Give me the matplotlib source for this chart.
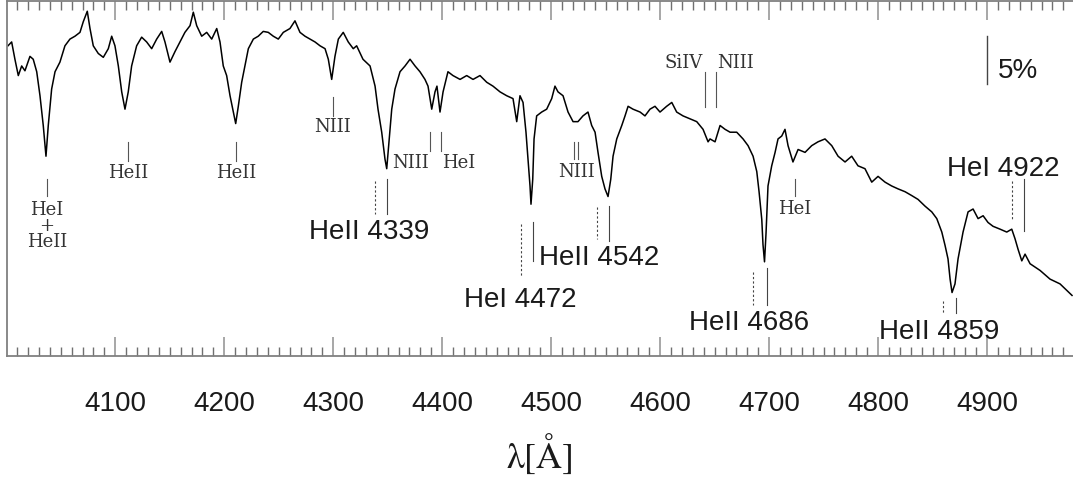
import matplotlib
matplotlib.use("Agg")
import matplotlib.pyplot as plt
from matplotlib.ticker import MultipleLocator

# spectrum (wavelength in A, relative flux)
wave = [4001.5, 4004.9, 4007.9, 4011.0, 4014.1, 4017.1, 4021.7, 4024.7, 4027.9, 4030.9,
        4033.9, 4036.4, 4038.5, 4041.6, 4044.7, 4049.2, 4053.8, 4058.4, 4063.0, 4067.6,
        4070.6, 4074.3, 4076.8, 4079.8, 4084.4, 4089.0, 4093.6, 4096.7, 4099.7, 4102.8,
        4105.9, 4108.9, 4111.9, 4115.0, 4119.6, 4124.2, 4128.8, 4133.4, 4138.0, 4142.6,
        4145.6, 4150.2, 4154.8, 4159.4, 4163.9, 4168.6, 4171.6, 4174.7, 4179.3, 4183.9,
        4188.5, 4193.1, 4196.1, 4199.1, 4202.2, 4205.3, 4208.3, 4210.5, 4212.9, 4216.0,
        4219.0, 4222.1, 4226.7, 4231.2, 4235.8, 4240.4, 4245.0, 4249.6, 4254.2, 4260.3,
        4264.9, 4269.5, 4274.1, 4278.7, 4283.3, 4287.9, 4292.5, 4295.5, 4298.6, 4301.6,
        4304.7, 4309.2, 4313.8, 4318.4, 4321.5, 4327.3, 4333.8, 4338.4, 4341.1, 4344.5,
        4347.5, 4349.1, 4351.2, 4353.7, 4356.7, 4361.3, 4365.9, 4370.5, 4375.1, 4379.6,
        4384.2, 4387.0, 4390.4, 4393.4, 4395.2, 4398.0, 4400.8, 4405.3, 4409.9, 4416.4,
        4422.5, 4428.3, 4434.7, 4440.9, 4446.6, 4453.1, 4459.2, 4465.0, 4468.4, 4471.4,
        4474.2, 4476.9, 4478.8, 4480.6, 4481.5, 4483.1, 4484.3, 4486.7, 4491.3, 4495.9,
        4500.5, 4503.5, 4506.3, 4510.9, 4515.5, 4520.1, 4524.6, 4529.2, 4533.8, 4537.2,
        4540.3, 4543.0, 4546.4, 4549.4, 4552.2, 4554.7, 4556.8, 4560.2, 4564.8, 4567.8,
        4570.6, 4575.1, 4581.6, 4586.1, 4590.7, 4595.3, 4599.9, 4606.0, 4610.7, 4615.2,
        4621.0, 4627.4, 4633.6, 4639.4, 4644.0, 4645.8, 4650.4, 4655.0, 4659.6, 4664.2,
        4670.3, 4676.1, 4680.7, 4685.3, 4688.7, 4690.8, 4693.3, 4694.4, 4695.8, 4697.2,
        4699.0, 4702.4, 4705.5, 4708.2, 4711.6, 4714.6, 4717.4, 4721.9, 4726.6, 4733.0,
        4739.1, 4744.9, 4751.3, 4757.5, 4763.3, 4769.7, 4775.8, 4781.6, 4788.0, 4794.2,
        4800.0, 4806.4, 4812.5, 4818.3, 4824.8, 4830.9, 4836.7, 4843.1, 4849.3, 4853.9,
        4858.5, 4861.5, 4864.2, 4866.1, 4867.9, 4870.6, 4873.4, 4878.0, 4882.6, 4887.2,
        4891.8, 4896.4, 4900.9, 4905.5, 4912.0, 4918.1, 4922.7, 4925.7, 4928.5, 4931.9,
        4934.9, 4939.5, 4948.7, 4957.8, 4967.0, 4978.0]
flux = [1.053, 1.057, 1.039, 1.022, 1.032, 1.027, 1.042, 1.039, 1.026, 1.001,
        0.970, 0.938, 0.970, 1.008, 1.026, 1.036, 1.053, 1.060, 1.063, 1.067,
        1.078, 1.089, 1.071, 1.053, 1.045, 1.041, 1.050, 1.063, 1.053, 1.032,
        1.005, 0.987, 1.005, 1.032, 1.053, 1.062, 1.057, 1.050, 1.060, 1.068,
        1.057, 1.036, 1.047, 1.057, 1.067, 1.074, 1.088, 1.074, 1.063, 1.067,
        1.060, 1.071, 1.057, 1.032, 1.022, 1.001, 0.984, 0.972, 0.990, 1.015,
        1.032, 1.050, 1.060, 1.063, 1.068, 1.067, 1.063, 1.060, 1.067, 1.071,
        1.079, 1.067, 1.063, 1.060, 1.057, 1.053, 1.050, 1.039, 1.018, 1.042,
        1.060, 1.067, 1.057, 1.050, 1.053, 1.039, 1.032, 1.011, 0.987, 0.963,
        0.935, 0.925, 0.953, 0.987, 1.008, 1.026, 1.032, 1.039, 1.032, 1.026,
        1.018, 1.011, 0.987, 1.005, 1.011, 0.984, 1.005, 1.026, 1.022, 1.018,
        1.022, 1.018, 1.022, 1.015, 1.011, 1.005, 1.001, 0.998, 0.974, 1.001,
        0.994, 0.963, 0.935, 0.907, 0.888, 0.914, 0.956, 0.980, 0.984, 0.987,
        0.998, 1.011, 1.005, 1.001, 0.984, 0.974, 0.974, 0.980, 0.984, 0.970,
        0.963, 0.942, 0.917, 0.904, 0.896, 0.914, 0.938, 0.956, 0.970, 0.980,
        0.990, 0.987, 0.984, 0.980, 0.987, 0.990, 0.984, 0.990, 0.994, 0.984,
        0.980, 0.977, 0.974, 0.966, 0.953, 0.956, 0.953, 0.970, 0.966, 0.963,
        0.963, 0.956, 0.949, 0.938, 0.922, 0.901, 0.872, 0.846, 0.828, 0.858,
        0.907, 0.928, 0.942, 0.956, 0.959, 0.966, 0.949, 0.932, 0.945, 0.942,
        0.949, 0.953, 0.956, 0.949, 0.938, 0.932, 0.938, 0.928, 0.925, 0.911,
        0.917, 0.911, 0.907, 0.904, 0.901, 0.897, 0.893, 0.886, 0.880, 0.873,
        0.859, 0.845, 0.831, 0.810, 0.796, 0.805, 0.831, 0.859, 0.880, 0.883,
        0.873, 0.876, 0.869, 0.865, 0.862, 0.859, 0.862, 0.852, 0.841, 0.829,
        0.836, 0.826, 0.819, 0.810, 0.805, 0.793]

# strong lines: label, rest wavelength (dotted), observed wavelength (solid)
big_names = ['HeII 4339', 'HeI 4472', 'HeII 4542', 'HeII 4686', 'HeII 4859', 'HeI 4922']
big_rest = [4338.3, 4472.1, 4542.4, 4685.5, 4859.4, 4922.7]
big_obs = [4349.6, 4483.1, 4553.4, 4698.3, 4871.5, 4934.0]

# weak lines: label, observed wavelength
small_names = ['HeI\n+\nHeII', 'HeII', 'HeII', 'NIII', 'NIII', 'HeI', 'NIII', 'NIII',
               'SiIV', 'NIII', 'HeI']
small_wave = [4037.3, 4111.7, 4210.8, 4299.8, 4388.8, 4398.6, 4521.0, 4524.9,
              4641.2, 4651.3, 4723.8]

# layout (flux units) for the marks
big_layout = [  # (dotted top, dotted bottom, solid top, solid bottom, text x, text y)
    (0.912, 0.878, 0.914, 0.878, 4332.8, 0.860),
    (0.867, 0.812, 0.869, 0.829, 4471.4, 0.789),
    (0.885, 0.852, 0.886, 0.850, 4543.9, 0.833),
    (0.817, 0.783, 0.822, 0.783, 4681.6, 0.765),
    (0.787, 0.775, 0.790, 0.775, 4856.4, 0.756),
    (0.912, 0.871, 0.914, 0.860, 4914.7, 0.926),
]
small_layout = [  # (tick top, tick bottom, text x, text y, ha)
    (0.914, 0.897, 4037.3, 0.866, 'center'),
    (0.953, 0.933, 4111.7, 0.922, 'center'),
    (0.953, 0.933, 4210.8, 0.922, 'center'),
    (1.000, 0.980, 4299.8, 0.969, 'center'),
    (0.963, 0.943, 4388.0, 0.932, 'right'),
    (0.963, 0.943, 4399.5, 0.932, 'left'),
    (0.953, 0.935, 4522.9, 0.923, 'center'),
    (0.953, 0.935, None, None, 'center'),
    (1.026, 0.989, 4639.4, 1.036, 'right'),
    (1.026, 0.989, 4652.2, 1.036, 'left'),
    (0.914, 0.897, 4723.8, 0.884, 'center'),
]

fig = plt.figure(figsize=(10.73, 4.81), dpi=100)
ax = fig.add_axes([0.0068, 0.2572, 0.9932, 0.7393])

ax.plot(wave, flux, color='black', linewidth=1.1)

for name, rest, obs, lay in zip(big_names, big_rest, big_obs, big_layout):
    ax.plot([rest, rest], [lay[0], lay[1]], color='#444444', linewidth=0.8, linestyle=(0, (2, 2)))
    ax.plot([obs, obs], [lay[2], lay[3]], color='#444444', linewidth=0.8)
    ax.text(lay[4], lay[5], name, ha='center', va='center', fontsize=20,
            family='Liberation Sans', color='#1a1a1a')

for name, w, lay in zip(small_names, small_wave, small_layout):
    ax.plot([w, w], [lay[0], lay[1]], color='#555555', linewidth=0.8)
    if lay[2] is None:
        continue
    ax.text(lay[2], lay[3], name, ha=lay[4], va='center', fontsize=13,
            family='DejaVu Serif', color='#333333', linespacing=0.85,
            multialignment='center')

# 5% scale bar
ax.plot([4900.3, 4900.3], [1.063, 1.013], color='#444444', linewidth=1.0)
ax.text(4910.1, 1.028, '5%', ha='left', va='center', fontsize=20,
        family='Liberation Sans', color='#1a1a1a')

ax.set_xlim(4000.9, 4978.9)
ax.set_ylim(0.7296, 1.100)
ax.set_xticks(range(4100, 5000, 100))
ax.xaxis.set_minor_locator(MultipleLocator(10))
ax.set_yticks([])
ax.tick_params(axis='x', which='major', direction='in', top=True, bottom=True,
               length=13.5, width=1.3, color='#a0a0a0', pad=24,
               labelsize=20, labelcolor='#1a1a1a')
ax.tick_params(axis='x', which='minor', direction='in', top=True, bottom=True,
               length=6.5, width=1.0, color='#707070')
for lbl in ax.get_xticklabels():
    lbl.set_family('Liberation Sans')
for side in ['left', 'bottom', 'top']:
    ax.spines[side].set_color('#808080')
    ax.spines[side].set_linewidth(1.3)
ax.spines['right'].set_visible(False)

ax.set_xlabel('λ[Å]', fontsize=26, family='STIXGeneral', labelpad=14, color='#1a1a1a')

fig.savefig('out.png', dpi=100)
